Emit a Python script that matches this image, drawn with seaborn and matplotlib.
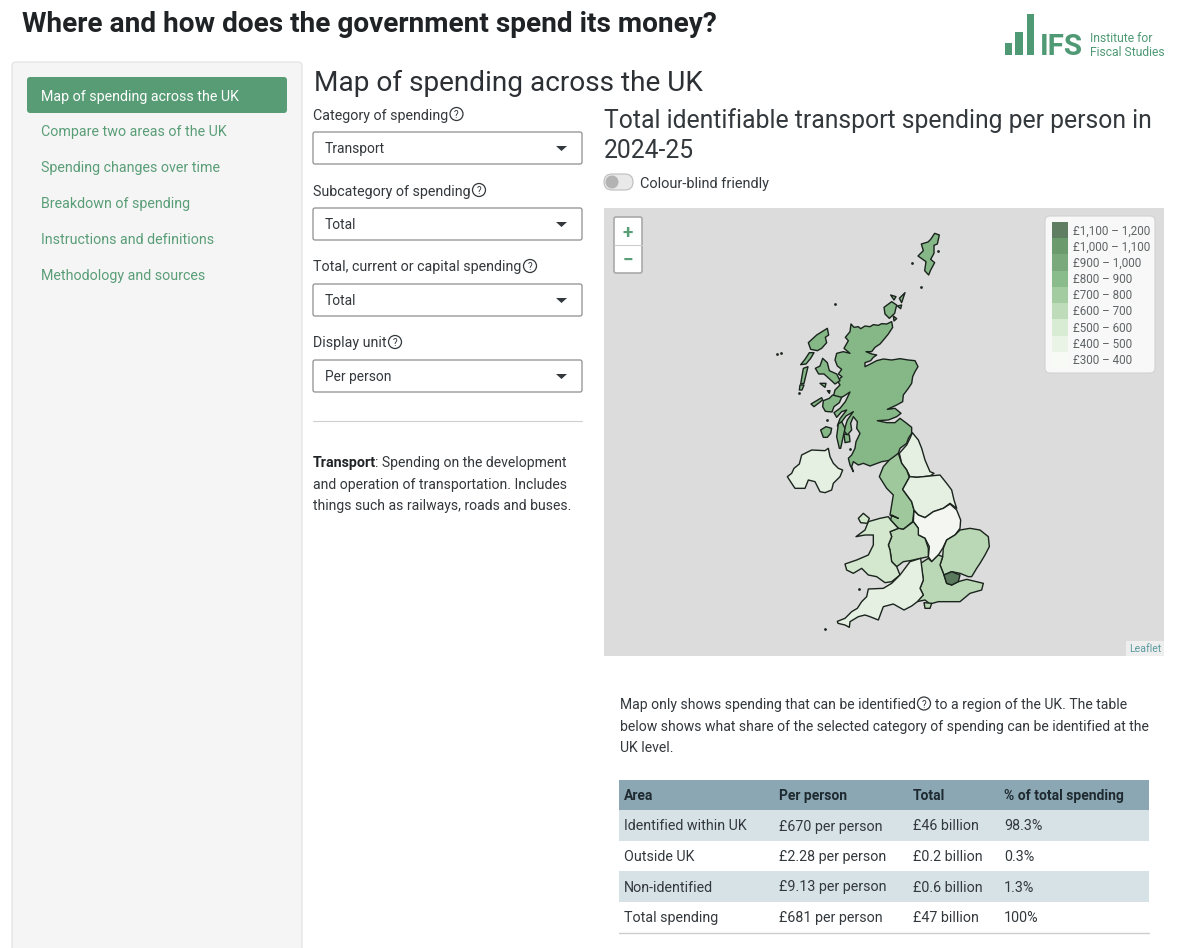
import numpy as np
import pandas as pd
import matplotlib
matplotlib.use("Agg")
import matplotlib.pyplot as plt
from matplotlib.patches import Rectangle, FancyBboxPatch, Circle, Polygon
from matplotlib.colors import ListedColormap, to_rgb
import seaborn as sns

# ---------- data ----------
TITLE = "Where and how does the government spend its money?"
NAV = ["Map of spending across the UK", "Compare two areas of the UK", "Spending changes over time",
       "Breakdown of spending", "Instructions and definitions", "Methodology and sources"]
SELECT_LABELS = ["Category of spending", "Subcategory of spending", "Total, current or capital spending", "Display unit"]
SELECT_VALUES = ["Transport", "Total", "Total", "Per person"]
BANDS = ["£1,100 – 1,200", "£1,000 – 1,100", "£900 – 1,000", "£800 – 900", "£700 – 800",
         "£600 – 700", "£500 – 600", "£400 – 500", "£300 – 400"]
BAND_COLOURS = ["#5f7d60", "#6b9a6d", "#7aaa7b", "#8abb8b", "#a3cda1", "#bfdcba", "#d8ebd3", "#e9f4e6", "#f7faf5"]
TABLE_HEAD = ["Area", "Per person", "Total", "% of total spending"]
TABLE_AREA = ["Identified within UK", "Outside UK", "Non-identified", "Total spending"]
TABLE_PP = ["£670 per person", "£2.28 per person", "£9.13 per person", "£681 per person"]
TABLE_TOTAL = ["£46 billion", "£0.2 billion", "£0.6 billion", "£47 billion"]
TABLE_SHARE = ["98.3%", "0.3%", "1.3%", "100%"]

# estimated spending per person by region (GBP)
SPEND = dict(scotland=850, ne=470, nw=750, yorks=470, em=380, wm=680, east=650,
             london=1150, se=650, sw=460, wales=590, ni=470)

# region outlines: geography traced in map units
scotland = [(333,312),(342,322),(355,320),(362,326),(375,318),(390,320),(400,314),(415,316),(425,311),(440,312),(455,305),
 (458,322),(445,342),(432,358),(420,372),(405,382),(395,395),(378,395),(395,402),(410,405),(400,412),(392,422),(375,428),
 (375,440),(395,430),(410,422),(430,417),(455,420),(480,416),(505,420),(525,422),(534,440),(525,455),(518,470),(515,490),
 (505,505),(490,525),(488,545),(470,555),(442,568),(465,565),(483,580),(470,590),(445,600),(412,602),(440,608),(465,608),
 (480,595),(500,610),(515,622),(515,640),(505,655),(500,670),(480,685),(475,700),(455,720),(425,725),(390,738),(370,730),
 (355,735),(340,725),(335,740),(340,755),(330,735),(325,715),(335,705),(345,685),(348,665),(360,640),(350,625),(352,605),
 (340,590),(332,610),(335,630),(322,645),(312,632),(322,600),(340,575),(318,588),(300,612),(292,618),(300,596),(320,570),
 (305,575),(290,592),(282,578),(300,565),(316,545),(330,516),(312,528),(290,540),(280,530),(285,510),(300,495),(292,482),
 (306,470),(295,462),(305,448),(292,438),(285,420),(290,400),(310,395),(330,400),(312,385),(325,362),(316,352),(330,335)]
scot_islands = [
 [(295,612),(305,605),(315,625),(302,685),(298,685),(290,650)],
 [(242,630),(258,620),(275,625),(272,640),(262,652),(250,652)],
 [(312,642),(328,645),(330,665),(315,668)],
 [(226,445),(240,438),(248,415),(262,428),(268,452),(290,462),(300,482),(285,492),(270,478),(252,462),(236,462)],
 [(240,490),(258,490),(255,502)],
 [(262,512),(270,512),(268,520)],
 [(250,542),(268,535),(278,525),(305,532),(298,548),(282,560),(276,576),(256,574),(248,560)],
 [(213,552),(245,533),(248,540),(222,560)],
 [(205,368),(230,345),(262,325),(266,345),(256,352),(260,368),(245,385),(232,392),(212,388)],
 [(208,398),(222,398),(212,415),(198,432),(182,434),(195,418)],
 [(190,445),(204,440),(198,465),(192,490),(182,492),(186,468)],
 [(180,495),(192,495),(186,510),(178,510)],
 [(432,262),(455,245),(470,255),(464,280),(448,295),(435,282)],
 [(452,225),(468,230),(462,240)],
 [(478,235),(495,218),(485,248)],
 [(472,258),(485,255),(482,266)],
 [(460,288),(470,296),(462,303)],
 [(584,40),(598,45),(592,72),(582,76),(582,100),(572,118),(584,128),(572,150),(566,165),(554,152),(558,125),
  (534,108),(550,92),(544,72),(564,66),(572,58)],
]
scot_dots = [(112,403),(123,398),(285,251),(516,128),(544,201),(176,520),(595,92),(262,600)]

# the southern outlines were read in a frame offset by (90, 600)
ni = [(52,170),(65,160),(72,145),(88,132),(95,105),(125,90),(165,92),(175,85),(180,110),(190,130),(205,145),(218,150),
 (210,170),(190,190),(185,210),(165,218),(150,215),(135,185),(115,180),(105,205),(75,205),(65,190)]
ne = [(427,38),(445,60),(455,85),(465,120),(480,155),(492,160),(480,168),(440,172),(420,170),(410,150),(395,130),(388,100),(410,75),(420,55)]
nw = [(385,100),(395,130),(410,150),(418,172),(398,208),(410,225),(425,245),(432,270),(428,305),(400,328),(385,325),(362,300),
 (365,285),(385,295),(360,285),(365,255),(370,225),(350,205),(328,170),(340,140),(358,120)]
yorks = [(420,170),(440,172),(480,168),(510,165),(530,190),(545,210),(552,240),(560,265),(540,250),(520,265),(490,275),(465,293),
 (445,285),(432,270),(425,245),(398,208),(418,172)]
em = [(432,272),(445,285),(465,293),(490,275),(520,265),(540,252),(560,270),(572,300),(570,325),(555,345),(530,360),(518,385),
 (505,405),(485,425),(475,410),(478,380),(465,355),(445,345),(445,325),(430,305)]
east = [(530,360),(555,345),(570,330),(600,325),(630,330),(655,350),(658,380),(645,405),(630,430),(620,445),(605,470),(595,470),
 (570,460),(545,455),(522,465),(510,435),(518,410),(520,385)]
london = [(522,465),(545,455),(570,465),(565,485),(545,495),(530,490)]
se = [(475,415),(485,425),(505,405),(518,410),(510,435),(522,465),(530,490),(545,495),(565,485),(590,478),(640,490),(635,510),
 (600,520),(570,545),(505,545),(480,552),(465,540),(440,545),(460,525),(450,505),(460,480),(452,430)]
wight = [(462,548),(485,550),(480,565),(465,565)]
wm = [(360,335),(385,325),(400,328),(430,305),(445,325),(445,345),(465,355),(475,385),(475,410),(452,415),(420,422),(400,425),
 (380,440),(365,425),(360,390),(355,375),(365,350)]
wales = [(258,350),(285,330),(295,305),(330,295),(355,290),(362,300),(385,325),(360,335),(365,350),(355,375),(360,390),(365,425),
 (380,440),(390,465),(365,485),(345,488),(320,470),(295,465),(275,445),(250,460),(230,450),(225,432),(260,420),(295,405),
 (310,375),(310,345),(285,345)]
anglesey = [(265,295),(280,280),(298,295),(292,310),(272,308)]
sw = [(365,490),(390,465),(420,425),(452,415),(460,480),(450,505),(460,525),(442,545),(425,558),(402,570),(370,552),(340,560),
 (325,600),(300,590),(285,585),(265,590),(240,605),(238,622),(225,615),(204,610),(202,604),(225,595),(245,575),(262,565),
 (275,545),(290,530),(295,507),(340,505)]
south_dots = [(165,628),(267,507),(240,88)]

# ---------- theme ----------
sns.set_theme(style="white")
plt.rcParams["font.family"] = ["Roboto", "DejaVu Sans"]
INK = "#33383c"
GREEN = "#5a9e78"
LOGO = "#4f9a75"
BODY = 14.2
px = 72 / 100

fig = plt.figure(figsize=(12, 9.48), dpi=100, facecolor="white")
ax = fig.add_axes([0, 0, 1, 1]); ax.set_xlim(0, 1200); ax.set_ylim(948, 0); ax.axis("off")

def T(a, x, y, s, size=BODY, color=INK, weight="normal", ha="left"):
    a.text(x, y, s, fontsize=size * px, color=color, fontweight=weight, ha=ha, va="center_baseline")

def help_icon(a, x, y):
    a.add_patch(Circle((x, y), 6.5, fc="white", ec=INK, lw=0.9))
    T(a, x, y + 0.3, "?", size=10, ha="center")

# ---------- header ----------
T(ax, 22, 21.5, TITLE, size=28, color="#1f2326", weight="bold")
for x0, w, top in zip([1005, 1015, 1027], [7, 8, 7], [43, 32, 14]):
    ax.add_patch(Rectangle((x0, top), w, 55 - top, fc=LOGO, ec="none"))
T(ax, 1040, 43.5, "IFS", size=29.5, color=LOGO, weight="bold")
T(ax, 1090, 37, "Institute for", size=12.1, color=LOGO)
T(ax, 1090, 51, "Fiscal Studies", size=12.1, color=LOGO)

# ---------- sidebar ----------
ax.add_patch(FancyBboxPatch((12, 62), 290, 900, boxstyle="round,pad=0,rounding_size=4", fc="#f5f5f5", ec="#e3e3e3", lw=0.9))
ax.add_patch(FancyBboxPatch((27, 77), 260, 36, boxstyle="round,pad=0,rounding_size=3", fc="#579c74", ec="none"))
for i, s in enumerate(NAV):
    T(ax, 41, 95 + i * 35.9, s, color="white" if i == 0 else GREEN)

# ---------- controls ----------
T(ax, 314, 80, NAV[0], size=28, color="#2c3034")
help_x = [456.5, 479, 530, 395]
for i, (lab, val) in enumerate(zip(SELECT_LABELS, SELECT_VALUES)):
    y0 = 132 + i * 76
    T(ax, 313, y0 - 18, lab)
    help_icon(ax, help_x[i], y0 - 18)
    ax.add_patch(FancyBboxPatch((313, y0), 269, 32, boxstyle="round,pad=0,rounding_size=2", fc="white", ec="#8f8f8f", lw=0.9))
    T(ax, 325, y0 + 15.5, val, size=13.8)
    ax.add_patch(Polygon([(556, y0 + 14), (567, y0 + 14), (561.5, y0 + 19)], fc="#33383c", ec="none"))
ax.plot([313, 582], [421, 421], color="#cfcfcf", lw=0.8)
T(ax, 313, 461.5, "Transport", color="#1f2326", weight="bold")
T(ax, 375, 461.5, ": Spending on the development", size=14)
T(ax, 313, 483, "and operation of transportation. Includes", size=14)
T(ax, 313, 504.5, "things such as railways, roads and buses.", size=14)

# ---------- map heading ----------
T(ax, 604, 118.5, "Total identifiable transport spending per person in", size=24.8)
T(ax, 604, 148.5, "2024-25", size=24.8)
ax.add_patch(FancyBboxPatch((604, 174), 29, 16, boxstyle="round,pad=0,rounding_size=8", fc="#e9e9e9", ec="#bdbdbd", lw=0.8))
ax.add_patch(Circle((612, 182), 6.5, fc="#b3b3b3", ec="none"))
T(ax, 640, 182.5, "Colour-blind friendly", size=14.5)

# ---------- map ----------
def band_colour(v):
    c = to_rgb(BAND_COLOURS[::-1][int((v - 300) // 100)])
    return tuple(max(ch - 4 / 255, 0) for ch in c)   # the legend sits on white, the map on grey

m = fig.add_axes([604 / 1200, 1 - 656 / 948, 560 / 1200, 448 / 948], facecolor="#dcdcdc")
m.set_xlim(-408, 1272); m.set_ylim(1308, -36); m.set_xticks([]); m.set_yticks([])
for sp in m.spines.values():
    sp.set_visible(False)

south = lambda pts: [(x + 90, y + 600) for x, y in pts]
def draw(pts, key):
    m.add_patch(Polygon(pts, closed=True, fc=band_colour(SPEND[key]), ec="#1a241d", lw=1.0, joinstyle="round"))

draw(scotland, "scotland")
for isl in scot_islands:
    draw(isl, "scotland")
for pts, key in [(ni, "ni"), (ne, "ne"), (nw, "nw"), (yorks, "yorks"), (em, "em"), (east, "east"), (se, "se"),
                 (wight, "se"), (wm, "wm"), (wales, "wales"), (anglesey, "wales"), (sw, "sw"), (london, "london")]:
    draw(south(pts), key)
dots = np.array(scot_dots + south(south_dots))
m.scatter(dots[:, 0], dots[:, 1], s=4, color="#1a241d", linewidths=0)

# overlay for map furniture
ui = fig.add_axes([0, 0, 1, 1], zorder=3); ui.set_xlim(0, 1200); ui.set_ylim(948, 0); ui.axis("off"); ui.patch.set_alpha(0)
ui.add_patch(FancyBboxPatch((614, 217), 28, 56, boxstyle="round,pad=0,rounding_size=2", fc="white", ec="#a9a9a9", lw=1.2))
ui.plot([614, 642], [245, 245], color="#cccccc", lw=0.8)
T(ui, 628, 231, "+", size=19, color=GREEN, weight="bold", ha="center")
T(ui, 628, 258.5, "−", size=19, color=GREEN, weight="bold", ha="center")
ui.add_patch(Rectangle((1126, 641), 38, 15, fc="#eeeeee", ec="none"))
T(ui, 1145, 648.5, "Leaflet", size=10.5, color="#5a9aa0", ha="center")
ui.add_patch(FancyBboxPatch((1045, 216), 110, 157, boxstyle="round,pad=0,rounding_size=5", fc="#f8f8f8", ec="#d2d2d2", lw=0.8))
for i, s in enumerate(BANDS):
    T(ui, 1073, 229.3 + i * 16.2, s, size=11.6, color="#5f6466")

leg = fig.add_axes([1052 / 1200, 1 - 368 / 948, 16 / 1200, 146 / 948], zorder=4)
sns.heatmap(pd.DataFrame({"band": np.arange(len(BANDS))}, index=BANDS), ax=leg, cbar=False,
            cmap=ListedColormap(BAND_COLOURS), xticklabels=False, yticklabels=False, linewidths=0)
leg.set_ylabel(""); leg.set_xlabel("")

# ---------- paragraph and table ----------
T(ax, 620, 703.5, "Map only shows spending that can be identified", size=14)
help_icon(ax, 924, 703.5)
T(ax, 935, 703.5, "to a region of the UK. The table", size=14)
T(ax, 620, 725, "below shows what share of the selected category of spending can be identified at the", size=14)
T(ax, 620, 746.5, "UK level.", size=14)

col_x = [624, 779, 913, 1004]
ax.add_patch(Rectangle((619, 780), 530, 30, fc="#8aa7b3", ec="none"))
for x, s in zip(col_x, TABLE_HEAD):
    T(ax, x, 794.5, s, size=13.9, color="#1f2a30", weight="bold")
for i, row in enumerate(zip(TABLE_AREA, TABLE_PP, TABLE_TOTAL, TABLE_SHARE)):
    y0 = 810 + i * 30.5
    if i % 2 == 0:
        ax.add_patch(Rectangle((619, y0), 530, 30.5, fc="#d6e2e6", ec="none"))
    for x, s in zip(col_x, row):
        T(ax, x, y0 + 15, s, size=14.3)
ax.plot([619, 1149], [932.5, 932.5], color="#cdcdcd", lw=1)

fig.savefig("out.png", dpi=100, facecolor="white")
